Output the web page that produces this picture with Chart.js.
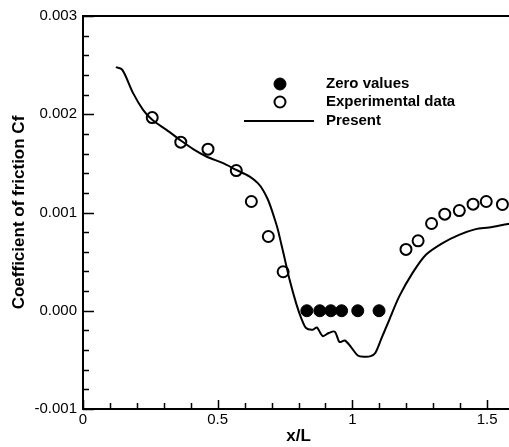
<!DOCTYPE html>
<html>
<head>
<meta charset="utf-8">
<script src="https://cdn.jsdelivr.net/npm/chart.js@4/dist/chart.umd.min.js"></script>
<style>
  html, body { margin: 0; padding: 0; background: #fff; overflow: hidden; }
  #chart-cf { display: block; }
</style>
</head>
<body>
<canvas id="chart-cf" width="530" height="447"></canvas>
<script>
// Cf along the plate: zero-value points, measured data, present computation
var zeroX = [0.831, 0.879, 0.920, 0.960, 1.020, 1.099];
var zeroY = [0, 0, 0, 0, 0, 0];

var expX = [0.257, 0.363, 0.464, 0.569, 0.625, 0.688, 0.743, 1.199, 1.244, 1.294, 1.343, 1.397, 1.448, 1.497, 1.557];
var expY = [0.001966, 0.001716, 0.001645, 0.001427, 0.001112, 0.000756, 0.000397, 0.000624, 0.000712, 0.000888, 0.000983, 0.001020, 0.001085, 0.001112, 0.001082];

var presentX = [0.122, 0.146, 0.186, 0.223, 0.257, 0.310, 0.363, 0.409, 0.458, 0.520, 0.569, 0.619, 0.649, 0.668, 0.685,
                0.699, 0.712, 0.723, 0.736, 0.748, 0.767, 0.791, 0.810, 0.828, 0.853, 0.868, 0.890, 0.912, 0.935, 0.952,
                0.972, 0.995, 1.020, 1.045, 1.068, 1.085, 1.106, 1.137, 1.174, 1.223, 1.273, 1.335, 1.396, 1.458, 1.507, 1.578, 1.600];
var presentY = [0.002479, 0.002452, 0.002215, 0.002045, 0.001943, 0.001841, 0.001733, 0.001645, 0.001570, 0.001502, 0.001434, 0.001366, 0.001299, 0.001230, 0.001140,
                0.001040, 0.000930, 0.000830, 0.000680, 0.000540, 0.000315, 0.000078, -0.000074, -0.000176, -0.000193, -0.000170, -0.000258, -0.000227, -0.000213, -0.000318,
                -0.000303, -0.000370, -0.000455, -0.000468, -0.000462, -0.000430, -0.000295, -0.000092, 0.000146, 0.000383, 0.000570, 0.000689, 0.000773, 0.000831, 0.000847, 0.000882, 0.000890];

var xTicks = [0, 0.5, 1, 1.5];
var yTicks = [-0.001, 0, 0.001, 0.002, 0.003];

var FONT = '"Liberation Sans", Arial, Helvetica, sans-serif';

function toPoints(xs, ys) {
    return xs.map(function(x, i) { return { x: x, y: ys[i] }; });
}

// inward tick marks, top frame line and the in-plot legend
var framePlugin = {
    id: 'frame',
    afterDraw: function(chart) {
        var ctx = chart.ctx, a = chart.chartArea;
        var xs = chart.scales.x, ys = chart.scales.y;
        ctx.save();
        ctx.strokeStyle = '#000';
        ctx.lineWidth = 2;
        ctx.beginPath();
        ctx.moveTo(a.left - 1, a.top);
        ctx.lineTo(a.right, a.top);
        ctx.stroke();

        ctx.lineWidth = 1.5;
        ctx.beginPath();
        var v, p;
        for (v = 0; v <= 1.6001; v += 0.1) {
            p = Math.round(xs.getPixelForValue(v)) + 0.5;
            var major = Math.abs(v * 2 - Math.round(v * 2)) < 1e-6;
            ctx.moveTo(p, a.bottom);
            ctx.lineTo(p, a.bottom - (major ? 9 : 6));
        }
        for (v = -0.001; v <= 0.003001; v += 0.0002) {
            p = Math.round(ys.getPixelForValue(v)) + 0.5;
            var majorY = Math.abs(v * 1000 - Math.round(v * 1000)) < 1e-6;
            ctx.moveTo(a.left, p);
            ctx.lineTo(a.left + (majorY ? 11 : 6), p);
        }
        ctx.stroke();

        // legend
        var ds = chart.data.datasets;
        var rows = [84, 102, 121];
        ctx.font = 'bold 15px ' + FONT;
        ctx.textBaseline = 'middle';
        ctx.fillStyle = '#000';
        ds.forEach(function(d, i) {
            var y = rows[i];
            if (d.showLine) {
                ctx.lineWidth = 2;
                ctx.beginPath();
                ctx.moveTo(244, y);
                ctx.lineTo(314, y);
                ctx.stroke();
            } else {
                ctx.beginPath();
                ctx.arc(280, y, d.pointRadius, 0, Math.PI * 2);
                ctx.lineWidth = d.pointBorderWidth;
                if (d.pointBackgroundColor !== 'transparent') {
                    ctx.fillStyle = d.pointBackgroundColor;
                    ctx.fill();
                }
                ctx.stroke();
            }
            ctx.fillStyle = '#000';
            ctx.fillText(d.label, 326, y);
        });
        ctx.restore();
    }
};

new Chart(document.getElementById('chart-cf'), {
    type: 'scatter',
    data: {
        datasets: [{
            label: 'Zero values',
            data: toPoints(zeroX, zeroY),
            showLine: false,
            pointRadius: 6,
            pointBorderWidth: 1,
            pointBackgroundColor: '#000',
            pointBorderColor: '#000'
        }, {
            label: 'Experimental data',
            data: toPoints(expX, expY),
            showLine: false,
            pointRadius: 5.5,
            pointBorderWidth: 2,
            pointBackgroundColor: 'transparent',
            pointBorderColor: '#000'
        }, {
            label: 'Present',
            data: toPoints(presentX, presentY),
            showLine: true,
            borderColor: '#000',
            borderWidth: 2,
            tension: 0.3,
            pointRadius: 0,
            fill: false
        }]
    },
    options: {
        responsive: false,
        animation: false,
        layout: { padding: { top: 16, right: 16, left: 0, bottom: 0 } },
        plugins: { legend: { display: false }, tooltip: { enabled: false } },
        scales: {
            x: {
                type: 'linear',
                min: 0, max: 1.6,
                afterBuildTicks: function(s) { s.ticks = xTicks.map(function(v) { return { value: v }; }); },
                afterFit: function(s) { s.height = 38; },
                grid: { display: false, drawTicks: false },
                border: { display: true, color: '#000', width: 2 },
                ticks: {
                    color: '#000', padding: 2,
                    font: { family: FONT, size: 15 },
                    maxRotation: 0,
                    callback: function(v) { return String(v); }
                },
                title: {
                    display: true, text: 'x/L', color: '#000',
                    font: { family: FONT, size: 17, weight: 'bold' },
                    padding: { top: 0, bottom: 0 }
                }
            },
            y: {
                type: 'linear',
                min: -0.001, max: 0.003,
                afterBuildTicks: function(s) { s.ticks = yTicks.map(function(v) { return { value: v }; }); },
                afterFit: function(s) { s.width = 83; },
                grid: { display: false, drawTicks: false },
                border: { display: true, color: '#000', width: 2 },
                ticks: {
                    color: '#000', padding: 6,
                    font: { family: FONT, size: 15 },
                    callback: function(v) { return v.toFixed(3); }
                },
                title: {
                    display: true, text: 'Coefficient of friction Cf', color: '#000',
                    font: { family: FONT, size: 17, weight: 'bold' },
                    padding: { top: 9, bottom: 0 }
                }
            }
        }
    },
    plugins: [framePlugin]
});
</script>
</body>
</html>
